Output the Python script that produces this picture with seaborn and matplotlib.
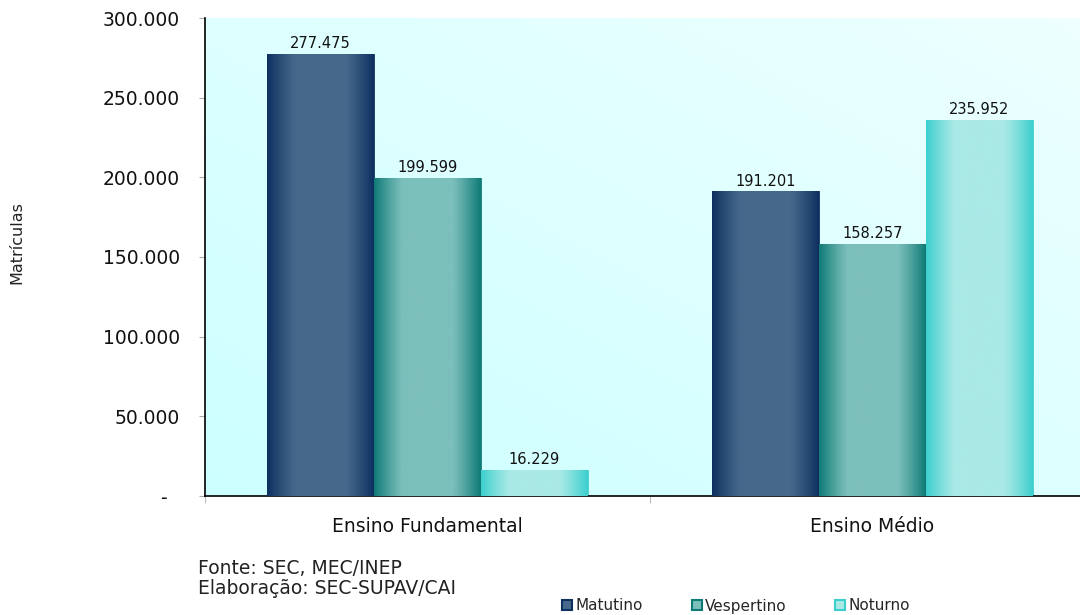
import numpy as np
import pandas as pd
import matplotlib
matplotlib.use("Agg")
import matplotlib.pyplot as plt
from matplotlib.patches import Patch
from matplotlib.colors import to_rgb
import seaborn as sns

categorias = ["Ensino Fundamental", "Ensino Médio"]
turnos = ["Matutino", "Vespertino", "Noturno"]
matutino = [277475, 191201]
vespertino = [199599, 158257]
noturno = [16229, 235952]
yticks = [0, 50000, 100000, 150000, 200000, 250000, 300000]

edge_cols = {"Matutino": "#0E3060", "Vespertino": "#0F7B76", "Noturno": "#3CCFCD"}
mid_cols = {"Matutino": "#46698B", "Vespertino": "#7CBFBB", "Noturno": "#A9E9E6"}

df = pd.DataFrame({
    "nivel": categorias * 3,
    "turno": [t for t in turnos for _ in categorias],
    "matriculas": matutino + vespertino + noturno,
})

sns.set_theme(style="white")
plt.rcParams["font.family"] = ["DejaVu Sans"]

fig = plt.figure(figsize=(10.8, 6.15), dpi=100)
ax = fig.add_axes([205 / 1080, 119 / 615, 890 / 1080, 478 / 615])

sns.barplot(data=df, x="nivel", y="matriculas", hue="turno", hue_order=turnos,
            order=categorias, palette=mid_cols, width=0.72, saturation=1,
            ax=ax, legend=False, zorder=2)

# background gradient
ny, nx = 200, 200
gx, gy = np.meshgrid(np.linspace(0, 1, nx), np.linspace(0, 1, ny))
tt = (gx + gy) / 2
c0 = np.array(to_rgb("#CCFFFF"))
c1 = np.array(to_rgb("#EEFFFF"))
bg = c0[None, None, :] * (1 - tt[..., None]) + c1[None, None, :] * tt[..., None]
ax.imshow(bg, extent=[-0.5, 1.5, 0, 300000], aspect="auto", origin="lower", zorder=0)

# cylinder gradient on bars
for cont, turno in zip(ax.containers, turnos):
    e = np.array(to_rgb(edge_cols[turno]))
    m = np.array(to_rgb(mid_cols[turno]))
    t = np.linspace(0, 1, 200)
    f = np.clip(np.sin(np.pi * t) * 1.35, 0, 1)
    row = e[None, :] * (1 - f[:, None]) + m[None, :] * f[:, None]
    img = np.repeat(row[None, :, :], 2, axis=0)
    for p in cont.patches:
        x, w, h = p.get_x(), p.get_width(), p.get_height()
        im = ax.imshow(img, extent=[x, x + w, 0, h], aspect="auto", zorder=3)
        im.set_clip_path(p)
        p.set_edgecolor(e)
        p.set_linewidth(0.6)
    labels = [f"{v:,.0f}".replace(",", ".") for v in cont.datavalues]
    ax.bar_label(cont, labels=labels, padding=2, fontsize=10.5, color="#111111")

ax.set_xlim(-0.5, 1.5)
ax.set_ylim(0, 300000)
ax.set_yticks(yticks)
ax.set_yticklabels(["-  " if v == 0 else f"{v:,.0f}".replace(",", ".") for v in yticks])
ax.tick_params(axis="y", labelsize=13.5, length=4.3, width=0.8, color="#AAAAAA",
               left=True, pad=13.7, labelcolor="#111111")
ax.set_xticks([0, 1])
ax.set_xticklabels(categorias)
ax.tick_params(axis="x", labelsize=13.5, length=0, pad=15, labelcolor="#111111")
ax.set_xticks([-0.5, 0.5], minor=True)
ax.tick_params(axis="x", which="minor", length=5, width=0.8, color="#BBBBBB", bottom=True)
ax.set_xlabel("")
ax.set_ylabel("")
for s in ["top", "right"]:
    ax.spines[s].set_visible(False)
for s in ["left", "bottom"]:
    ax.spines[s].set_color("black")
    ax.spines[s].set_linewidth(1.2)

fig.text(17 / 1080, 1 - 243 / 615, "Matrículas", rotation=90, fontsize=11.5,
         va="center", ha="center", color="#222222")
fig.text(198 / 1080, 1 - 568 / 615, "Fonte: SEC, MEC/INEP", fontsize=13.5,
         va="center", ha="left", color="#222222")
fig.text(198 / 1080, 1 - 588 / 615, "Elaboração: SEC-SUPAV/CAI", fontsize=13.5,
         va="center", ha="left", color="#222222")

handles = [Patch(facecolor=mid_cols[t], edgecolor=edge_cols[t], linewidth=1.5) for t in turnos]
fig.legend(handles, turnos, loc="center", bbox_to_anchor=(736 / 1080, 1 - 606 / 615),
           ncol=3, frameon=False, handlelength=0.65, handleheight=0.65,
           handletextpad=0.2, columnspacing=3.2, fontsize=11, borderaxespad=0,
           borderpad=0)

fig.savefig("out.png", dpi=100)
